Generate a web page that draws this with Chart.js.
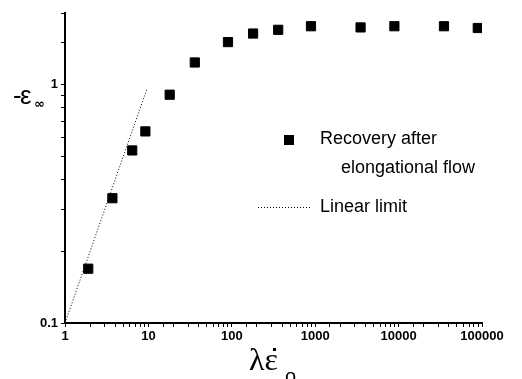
<!DOCTYPE html>
<html>
<head>
<meta charset="utf-8">
<script src="https://cdn.jsdelivr.net/npm/chart.js@4.4.0/dist/chart.umd.min.js"></script>
<style>
  body { margin: 0; background: #fff; }
  #wrap { width: 522px; height: 379px; position: relative; }
</style>
</head>
<body>
<div id="wrap"><canvas id="grafico"></canvas></div>
<script>
// dados
const taxas = [1.9, 3.7, 6.4, 9.2, 18, 36, 90, 180, 360, 890, 3500, 8900, 35000, 89000];
const recuperacao = [0.169, 0.334, 0.53, 0.637, 0.908, 1.24, 1.51, 1.64, 1.70, 1.76, 1.74, 1.76, 1.76, 1.73];
const limiteX = [1, 9.6];
const limiteY = [0.1, 0.96];
const rotulosX = [1, 10, 100, 1000, 10000, 100000];
const rotulosY = [0.1, 1];

function ehPotencia(v, lista) {
    return lista.some(p => Math.abs(v - p) / p < 1e-6);
}

// legenda e títulos desenhados à mão
const extras = {
    id: 'extras',
    afterDraw(chart) {
        const c = chart.ctx;
        c.save();
        c.fillStyle = '#000';
        c.strokeStyle = '#000';
        c.textBaseline = 'middle';

        // legenda
        c.fillRect(284, 135, 10, 10);
        c.font = '18px "Liberation Sans", Arial, sans-serif';
        c.textAlign = 'left';
        c.fillText('Recovery after', 320, 139);
        c.fillText('elongational flow', 341, 168);
        c.setLineDash([1, 2]);
        c.lineWidth = 1;
        c.beginPath();
        c.moveTo(258, 207.5);
        c.lineTo(310, 207.5);
        c.stroke();
        c.setLineDash([]);
        c.fillText('Linear limit', 320, 207);

        // título do eixo y
        c.font = '26px "Liberation Sans", Arial, sans-serif';
        c.fillText('-', 13, 97);
        c.fillText('\u03B5', 20, 97);
        c.font = 'bold 13px "DejaVu Sans", sans-serif';
        c.fillText('\u221E', 34, 105);

        // título do eixo x
        c.font = '32px "Liberation Serif", serif';
        c.textBaseline = 'alphabetic';
        c.fillText('\u03BB\u03B5', 249, 370);
        c.fillRect(273, 348, 3, 3);
        c.font = '20px "Liberation Sans", Arial, sans-serif';
        c.fillText('o', 285, 383);
        c.restore();
    }
};

const ctx = document.getElementById('grafico').getContext('2d');
const grafico = new Chart(ctx, {
    type: 'scatter',
    data: {
        datasets: [{
            label: 'Recovery after elongational flow',
            data: taxas.map((x, i) => ({ x: x, y: recuperacao[i] })),
            pointStyle: 'rect',
            pointRadius: 6.5,
            pointBorderWidth: 1,
            backgroundColor: '#000',
            borderColor: '#000',
            showLine: false
        }, {
            label: 'Linear limit',
            data: limiteX.map((x, i) => ({ x: x, y: limiteY[i] })),
            showLine: true,
            borderColor: '#000',
            borderWidth: 1,
            borderDash: [1, 2],
            pointRadius: 0
        }]
    },
    options: {
        responsive: true,
        maintainAspectRatio: false,
        animation: false,
        layout: { padding: { top: 13, right: 40, left: 0, bottom: 0 } },
        plugins: { legend: { display: false }, tooltip: { enabled: false } },
        scales: {
            x: {
                type: 'logarithmic',
                min: 1,
                max: 100000,
                afterFit(s) { s.height = 56; },
                border: { color: '#000', width: 2 },
                grid: { drawOnChartArea: false, tickLength: 4, color: '#000', tickWidth: 1 },
                ticks: {
                    autoSkip: false,
                    maxRotation: 0,
                    padding: 2,
                    color: '#000',
                    font: { family: '"Liberation Sans", Arial, sans-serif', size: 13, weight: 'bold' },
                    callback: v => ehPotencia(v, rotulosX) ? String(v) : ''
                }
            },
            y: {
                type: 'logarithmic',
                min: 0.1,
                max: 2,
                afterFit(s) { s.width = 65; },
                border: { color: '#000', width: 2 },
                grid: { drawOnChartArea: false, tickLength: 4, color: '#000', tickWidth: 1 },
                ticks: {
                    autoSkip: false,
                    padding: 3,
                    color: '#000',
                    font: { family: '"Liberation Sans", Arial, sans-serif', size: 13, weight: 'bold' },
                    callback: v => ehPotencia(v, rotulosY) ? String(v) : ''
                }
            }
        }
    },
    plugins: [extras]
});
</script>
</body>
</html>
